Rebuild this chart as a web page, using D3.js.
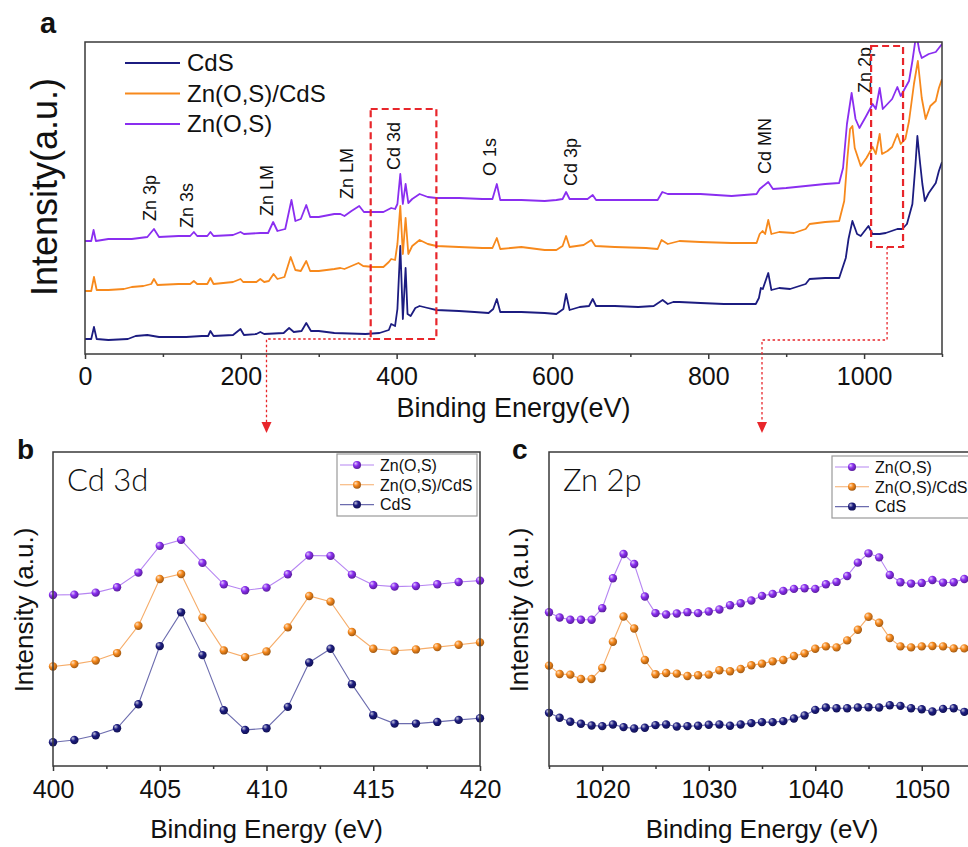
<!DOCTYPE html>
<html>
<head>
<meta charset="utf-8">
<script src="https://cdn.jsdelivr.net/npm/d3@7/dist/d3.min.js"></script>
<style>
  body { margin: 0; background: #fff; }
  svg text { font-family: "Liberation Sans", Arial, Helvetica, sans-serif; fill: #111; }
</style>
</head>
<body>
<script>
// ---------------- Survey spectra (binding energy eV, intensity a.u.) ----------------
const surveyNames = ["CdS", "Zn(O,S)/CdS", "Zn(O,S)"];

const surveyCdS = [
  [0,15],[8,15],[11.5,27],[15,15],[30,14],[55,15],[65,18],[80,19],[95,17],[110,17],[130,17],
  [150,18],[158,18],[161,23],[165,18],[190,19],[199.6,25],[204,19],[220,20],[225,22],[230,20],
  [255,21],[262,26],[268,22],[278,23],[284,31],[290,23],[300,23],[320,21],[360,20],[378,21],
  [390,24],[393,30],[398,28],[401,45],[404.7,108],[408,35],[411.5,86],[414,40],[418,38],
  [424,46],[429.5,48],[440,46],[451,44],[480,43],[500,42],[518,41],[524,45],[528.6,55],[533,42],
  [560,42],[590,41],[605,40],[614,45],[617.5,60],[622,44],[635,47],[647,48],[651.7,55],[656,48],
  [680,48],[710,47],[730,48],[741.4,54],[748,50],[755,52],[763,52],[790,51],[820,50],[861,50],
  [865,56],[867.5,66],[870,65],[877,81],[881,64],[891,66],[905,65],[925,70],[930,75],[950,76],
  [968,76],[976.5,96],[980,115],[985,133],[991,120],[995.7,118],[1005.6,128],[1010.7,120],
  [1020,120],[1027.8,121],[1042.7,125],[1049,125],[1055,130],[1062,150],[1066,190],[1068.4,218],
  [1072,190],[1074.8,170],[1078,153],[1083,161],[1092,171],[1096,183],[1100,192]
];

const surveyZnOSCdS = [
  [0,63],[8,63],[11.5,77],[15,64],[30,64],[50,65],[60,67],[75,68],[85,70],[88.5,75],[93,69],
  [120,70],[135,70],[139.7,73],[144,70],[157,70],[161,76],[165,70],[190,72],[199.6,75],[203,72],
  [220,72],[225,75],[230,72],[236,73],[242,80],[247,75],[256,77],[264,97],[270,84],[277,83],
  [284,93],[289,83],[300,83],[320,85],[327.8,86],[333,85],[342,88],[351,91],[357,88],[370,87],
  [383,87],[390,92],[393,95],[398,94],[401,110],[404.7,148],[408,100],[411.5,136],[415,100],
  [420,108],[429.5,114],[440,110],[451,108],[480,107],[510,106],[523,106],[528.6,116],[533,105],
  [560,107],[590,104],[605,104],[613,108],[617.5,118],[622,107],[640,109],[650,114],[655,108],
  [680,107],[720,106],[735,105],[740,114],[748,110],[763,113],[790,112],[830,111],[862,111],
  [866,120],[869.7,123],[873,120],[877,134],[881,120],[891,122],[910,121],[925,125],[930,130],
  [950,132],[968,133],[974.5,153],[978.6,196],[982,225],[985,228],[988,206],[995.7,188],
  [1003,196],[1011,207],[1015,200],[1020,220],[1023,200],[1030,203],[1036,207],[1042.7,220],
  [1047,210],[1053,215],[1057.7,233],[1064,270],[1069,293],[1074,256],[1079,235],[1085,248],
  [1092,253],[1096,266],[1100,275]
];

const surveyZnOS = [
  [0,113],[8,113],[11,124],[14,113],[30,115],[60,115],[80,117],[88.5,125],[95,117],[120,118],
  [135,118],[139.7,122],[144,118],[157,118],[161,122],[165,118],[190,119],[199.6,122],[204,120],
  [225,121],[235,121],[241.5,132],[247,123],[257,125],[265,154],[270,133],[277,135],[284,149],
  [289,137],[300,137],[320,140],[327.8,140],[333,138],[342,143],[352,148],[358,142],[383,142],
  [393,146],[398,145],[401,150],[404.7,180],[408,150],[411.5,170],[415,151],[420,155],
  [429.5,160],[440,157],[451,156],[480,156],[510,155],[523,155],[528.6,170],[533,154],[560,154],
  [590,153],[605,154],[613,155],[617.5,162],[622,155],[645,155],[651.7,159],[656,154],[680,154],
  [720,154],[735,154],[741,162],[748,160],[763,160],[790,160],[830,158],[862,160],[866,165],
  [877,172],[883,165],[900,166],[925,168],[950,170],[968,171],[973,186],[978,230],[984,261],
  [989,235],[994,226],[1002,237],[1011,250],[1015,245],[1020,266],[1024,245],[1036,255],
  [1042.7,267],[1047,258],[1057.7,273],[1062,293],[1067,320],[1071,303],[1074,296],[1083,300],
  [1092,302],[1096,306],[1100,310]
];

const surveyTicks = [0, 200, 400, 600, 800, 1000];
const surveyMinorTicks = [100, 300, 500, 700, 900, 1100];

// Peak assignments: label, energy where the label sits, intensity level of the label start
const peakNames  = ["Zn 3p", "Zn 3s", "Zn LM", "Zn LM", "Cd 3d", "O 1s", "Cd 3p", "Cd MN", "Zn 2p"];
const peakLabelE = [83, 131, 233, 336.5, 396, 519, 624, 872, 1001];
const peakLabelI = [133, 126, 138, 155, 184, 178, 168, 180, 261];

// Highlighted windows (eV range, intensity range)
const zoomWindows = [
  { name: "Cd 3d", e0: 366.7, e1: 451, i0: 15, i1: 245 },
  { name: "Zn 2p", e0: 1009, e1: 1050, i0: 107, i1: 308 }
];

// ---------------- Cd 3d high-resolution region ----------------
const cdEnergy = [400,401,402,403,404,405,406,407,408,409,410,411,412,413,414,415,416,417,418,419,420];
const cdZnOS    = [512,513,519,535,579,659,677,608,544,526,534,574,630,629,573,542,537,539,544,551,555];
const cdZnOSCdS = [298,305,316,338,420,560,575,444,346,326,343,415,509,492,401,351,345,349,356,363,370];
const cdCdS     = [71,78,92,113,185,359,460,332,167,108,113,177,310,351,245,152,127,127,132,138,143];
const cdTicks = [400, 405, 410, 415, 420];
const cdMinorTicks = [402.5, 407.5, 412.5, 417.5];

// ---------------- Zn 2p high-resolution region ----------------
const znEnergy = [1015,1016,1017,1018,1019,1020,1021,1022,1023,1024,1025,1026,1027,1028,1029,1030,
  1031,1032,1033,1034,1035,1036,1037,1038,1039,1040,1041,1042,1043,1044,1045,1046,1047,1048,1049,
  1050,1051,1052,1053,1054,1055];
const znZnOS = [463,447,440,440,440,475,565,638,608,510,460,456,459,463,460,465,471,484,490,498,512,
  518,527,533,535,533,547,554,572,612,640,628,575,553,549,551,560,552,553,563,560];
const znZnOSCdS = [302,277,275,262,262,295,374,450,414,319,276,280,278,271,273,275,288,285,292,303,
  308,315,319,331,339,353,360,357,378,410,449,431,385,360,357,360,361,360,354,354,354];
const znCdS = [160,145,133,127,122,120,125,117,113,115,123,125,119,120,121,124,125,121,125,129,132,
  132,135,143,152,169,176,174,174,176,177,176,183,181,174,171,164,172,174,163,165];
const znTicks = [1020, 1030, 1040, 1050];
const znMinorTicks = [1015, 1025, 1035, 1045, 1055];

const hrNames = ["Zn(O,S)", "Zn(O,S)/CdS", "CdS"];

// ---------------- drawing ----------------
const colors = { "CdS": "#1c1c80", "Zn(O,S)/CdS": "#f7891c", "Zn(O,S)": "#8a2ef0" };
const lineTints = { "CdS": "#6c6cae", "Zn(O,S)/CdS": "#f6ad6a", "Zn(O,S)": "#b685f2" };
const ballIds = { "CdS": "ball-cds", "Zn(O,S)/CdS": "ball-zocds", "Zn(O,S)": "ball-zos" };

const svg = d3.select("body").append("svg")
  .attr("width", 968).attr("height", 847)
  .attr("viewBox", "0 0 968 847");
svg.append("rect").attr("width", 968).attr("height", 847).attr("fill", "#fff");

const defs = svg.append("defs");
Object.keys(colors).forEach(k => {
  const base = d3.color(colors[k]);
  const grad = defs.append("radialGradient").attr("id", ballIds[k])
    .attr("cx", "40%").attr("cy", "38%").attr("r", "65%").attr("fx", "32%").attr("fy", "30%");
  grad.append("stop").attr("offset", "0%").attr("stop-color", d3.interpolateRgb(base, "#fff")(0.75));
  grad.append("stop").attr("offset", "45%").attr("stop-color", base.formatHex());
  grad.append("stop").attr("offset", "100%").attr("stop-color", base.darker(1.3).formatHex());
});

function frame(g, x0, y0, x1, y1) {
  g.append("rect").attr("x", x0).attr("y", y0).attr("width", x1 - x0).attr("height", y1 - y0)
    .attr("fill", "none").attr("stroke", "#3a3a3a").attr("stroke-width", 1.5);
}

function bottomAxis(g, scale, y, major, minor, fontSize, pad) {
  const ax = g.append("g").attr("transform", `translate(0,${y})`)
    .call(d3.axisBottom(scale).tickValues(major).tickSize(5).tickSizeOuter(0)
      .tickPadding(pad).tickFormat(d3.format("d")));
  ax.select(".domain").remove();
  ax.selectAll("line").attr("stroke", "#3a3a3a").attr("stroke-width", 1.5);
  ax.selectAll("text").attr("font-size", fontSize).attr("fill", "#111")
    .style("font-family", "'Liberation Sans', Arial, sans-serif");
  const mn = g.append("g").attr("transform", `translate(0,${y})`)
    .call(d3.axisBottom(scale).tickValues(minor).tickSize(3).tickSizeOuter(0).tickFormat(""));
  mn.select(".domain").remove();
  mn.selectAll("line").attr("stroke", "#3a3a3a").attr("stroke-width", 1.5);
}

// ===== Panel a: survey =====
const A = { l: 85, r: 942, t: 42, b: 354 };
const xA = d3.scaleLinear().domain([0, 1100]).range([A.l, A.r]);
const yA = d3.scaleLinear().domain([0, 312]).range([A.b, A.t]);
const gA = svg.append("g");

defs.append("clipPath").attr("id", "clipA").append("rect")
  .attr("x", A.l).attr("y", A.t).attr("width", A.r - A.l).attr("height", A.b - A.t);

const surveyLine = d3.line().x(d => xA(d[0])).y(d => yA(d[1]));
const surveySets = [surveyCdS, surveyZnOSCdS, surveyZnOS];
const plotA = gA.append("g").attr("clip-path", "url(#clipA)");
surveySets.forEach((s, i) => {
  plotA.append("path").datum(s).attr("d", surveyLine)
    .attr("fill", "none").attr("stroke", colors[surveyNames[i]])
    .attr("stroke-width", 1.8).attr("stroke-linejoin", "round");
});

// peak labels
peakNames.forEach((n, i) => {
  gA.append("text")
    .attr("transform", `translate(${xA(peakLabelE[i])},${yA(peakLabelI[i])}) rotate(-90)`)
    .attr("dy", "0.35em").attr("font-size", 18).attr("fill", "#111").text(n);
});

frame(gA, A.l, A.t, A.r, A.b);
bottomAxis(gA, xA, A.b, surveyTicks, surveyMinorTicks, 25, 8);

gA.append("text").attr("x", (A.l + A.r) / 2).attr("y", 417).attr("text-anchor", "middle")
  .attr("font-size", 27).text("Binding Energy(eV)");
gA.append("text").attr("transform", `translate(57,187) rotate(-90)`)
  .attr("text-anchor", "middle").attr("font-size", 36).text("Intensity(a.u.)");
svg.append("text").attr("x", 40).attr("y", 33).attr("font-size", 29)
  .attr("font-weight", "bold").text("a");

// legend a
surveyNames.forEach((n, i) => {
  const y = 63 + i * 30.5;
  gA.append("line").attr("x1", 125).attr("x2", 180).attr("y1", y).attr("y2", y)
    .attr("stroke", colors[n]).attr("stroke-width", 2);
  gA.append("text").attr("x", 187).attr("y", y).attr("dy", "0.35em")
    .attr("font-size", 24).text(n);
});

// ===== Panel b & c: high-resolution spectra =====
const B = { l: 53, r: 480, t: 452, b: 766 };
const C = { l: 549, r: 975, t: 452, b: 766 };
const xB = d3.scaleLinear().domain([400, 420]).range([B.l, B.r]);
const yB = d3.scaleLinear().domain([0, 940]).range([B.b, B.t]);
const xC = d3.scaleLinear().domain([1015, 1055]).range([C.l, C.r]);
const yC = d3.scaleLinear().domain([0, 945]).range([C.b, C.t]);

function hrPanel(box, x, y, energy, sets, ticks, minor, title, letter, letterX, legendX, legendY) {
  const g = svg.append("g");
  const id = "clip" + letter;
  defs.append("clipPath").attr("id", id).append("rect")
    .attr("x", box.l - 6).attr("y", box.t).attr("width", box.r - box.l + 12).attr("height", box.b - box.t);
  const plot = g.append("g").attr("clip-path", `url(#${id})`);
  const line = d3.line().x((d, i) => x(energy[i])).y(d => y(d));
  sets.forEach((vals, k) => {
    const name = hrNames[k];
    plot.append("path").datum(vals).attr("d", line).attr("fill", "none")
      .attr("stroke", lineTints[name]).attr("stroke-width", 1.1);
    plot.selectAll(null).data(vals).enter().append("circle")
      .attr("cx", (d, i) => x(energy[i])).attr("cy", d => y(d)).attr("r", 4.2)
      .attr("fill", `url(#${ballIds[name]})`);
  });
  frame(g, box.l, box.t, box.r, box.b);
  bottomAxis(g, x, box.b, ticks, minor, 25, 9);

  g.append("text").attr("x", (box.l + box.r) / 2).attr("y", 838).attr("text-anchor", "middle")
    .attr("font-size", 26).text("Binding Energy (eV)");
  g.append("text").attr("x", box.l + 14).attr("y", 491).attr("font-size", 31)
    .attr("fill", "#2a2a2a").attr("font-weight", 300)
    .style("font-family", "'Lato', 'Noto Sans', 'Liberation Sans', sans-serif").text(title);
  svg.append("text").attr("x", letterX).attr("y", 459).attr("font-size", 28)
    .attr("font-weight", "bold").text(letter);

  // legend
  const lg = g.append("g");
  lg.append("rect").attr("x", legendX - 3).attr("y", legendY - 11)
    .attr("width", 140).attr("height", 62).attr("fill", "#fff")
    .attr("stroke", "#9a9a9a").attr("stroke-width", 1.2);
  hrNames.forEach((n, i) => {
    const yy = legendY + i * 19.8;
    lg.append("line").attr("x1", legendX).attr("x2", legendX + 34).attr("y1", yy).attr("y2", yy)
      .attr("stroke", lineTints[n]).attr("stroke-width", 1.1);
    lg.append("circle").attr("cx", legendX + 17).attr("cy", yy).attr("r", 4)
      .attr("fill", `url(#${ballIds[n]})`);
    lg.append("text").attr("x", legendX + 40).attr("y", yy).attr("dy", "0.36em")
      .attr("font-size", 16).text(n);
  });
  return g;
}

hrPanel(B, xB, yB, cdEnergy, [cdZnOS, cdZnOSCdS, cdCdS], cdTicks, cdMinorTicks, "Cd 3d", "b", 17, 340, 465);
hrPanel(C, xC, yC, znEnergy, [znZnOS, znZnOSCdS, znCdS], znTicks, znMinorTicks, "Zn 2p", "c", 512, 835, 467);

svg.append("text").attr("transform", "translate(33,610) rotate(-90)").attr("text-anchor", "middle")
  .attr("font-size", 26).text("Intensity (a.u.)");
svg.append("text").attr("transform", "translate(528,610) rotate(-90)").attr("text-anchor", "middle")
  .attr("font-size", 26).text("Intensity (a.u.)");

// ===== zoom windows and connectors =====
const red = "#e8262b";
zoomWindows.forEach(w => {
  gA.append("rect").attr("x", xA(w.e0)).attr("y", yA(w.i1))
    .attr("width", xA(w.e1) - xA(w.e0)).attr("height", yA(w.i0) - yA(w.i1))
    .attr("fill", "none").attr("stroke", red).attr("stroke-width", 2.2)
    .attr("stroke-dasharray", "7,4");
});

const arrowTip = 433;
const centerB = (B.l + B.r) / 2, centerC = (C.l + C.r) / 2;
const wCd = zoomWindows[0], wZn = zoomWindows[1];
const conn = svg.append("g").attr("fill", "none").attr("stroke", red)
  .attr("stroke-width", 1.3).attr("stroke-dasharray", "2.5,2.5");
conn.append("path").attr("d",
  `M${xA(wCd.e0)},${yA(wCd.i0)}H${centerB}V${arrowTip - 10}`);
conn.append("path").attr("d",
  `M${xA((wZn.e0 + wZn.e1) / 2)},${yA(wZn.i0)}V${340}H${centerC}V${arrowTip - 10}`);
[centerB, centerC].forEach(cx => {
  svg.append("path").attr("d", `M${cx - 5},${arrowTip - 11}L${cx + 5},${arrowTip - 11}L${cx},${arrowTip}Z`)
    .attr("fill", red);
});
</script>
</body>
</html>
